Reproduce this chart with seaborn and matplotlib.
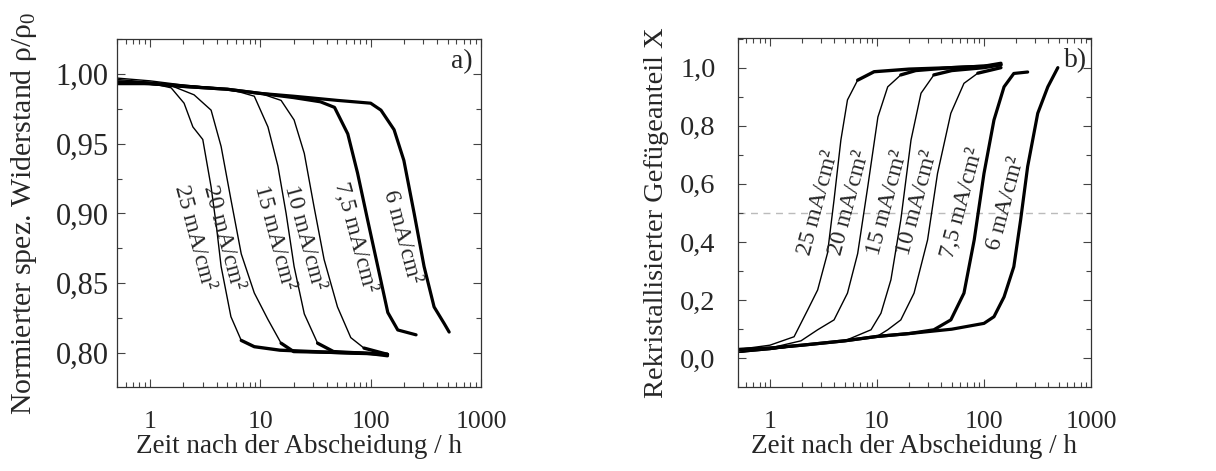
import numpy as np
import pandas as pd
import matplotlib
matplotlib.use("Agg")
import matplotlib.pyplot as plt
import matplotlib.ticker as mticker
import seaborn as sns

# ---------------- data ----------------
labels = ["25 mA/cm²", "20 mA/cm²", "15 mA/cm²", "10 mA/cm²", "7,5 mA/cm²", "6 mA/cm²"]

# panel a: normalized resistivity
ta25 = [0.5, 0.8, 1.2, 1.55, 2.03, 2.44, 3.0, 3.57, 4.0, 4.4, 5.4, 6.7, 8.8, 15, 30, 60, 100, 142]
ra25 = [0.994, 0.993, 0.992, 0.990, 0.979, 0.962, 0.953, 0.919, 0.890, 0.862, 0.826, 0.809, 0.8045, 0.802, 0.801, 0.800, 0.7995, 0.798]
ta20 = [0.5, 1, 1.5, 2.5, 3.57, 4.4, 5.4, 6.7, 8.8, 11.7, 15.4, 20, 40, 80, 142]
ra20 = [0.996, 0.994, 0.992, 0.985, 0.974, 0.948, 0.910, 0.871, 0.843, 0.824, 0.807, 0.801, 0.8005, 0.800, 0.799]
ta15 = [0.5, 1, 2, 4, 6.5, 8.8, 11.7, 14.4, 17.1, 20.2, 25, 33, 46, 80, 142]
ra15 = [0.997, 0.995, 0.992, 0.990, 0.987, 0.984, 0.962, 0.934, 0.900, 0.862, 0.828, 0.807, 0.801, 0.800, 0.799]
ta10 = [0.5, 1, 2, 5, 10, 15.4, 20.2, 25, 30.6, 37.8, 50, 66, 87, 142]
ra10 = [0.995, 0.994, 0.992, 0.989, 0.986, 0.981, 0.967, 0.943, 0.905, 0.867, 0.833, 0.811, 0.8035, 0.799]
ta75 = [0.5, 1, 2, 5, 10, 20, 35, 47, 62, 76, 94, 116, 143, 176, 258]
ra75 = [0.993, 0.993, 0.991, 0.989, 0.986, 0.983, 0.980, 0.976, 0.957, 0.929, 0.895, 0.862, 0.829, 0.8165, 0.813]
ta6 = [0.5, 1, 2, 5, 10, 20, 50, 100, 124, 163, 200, 248, 305, 376, 465, 515]
ra6 = [0.994, 0.993, 0.991, 0.989, 0.986, 0.984, 0.981, 0.979, 0.974, 0.960, 0.938, 0.900, 0.862, 0.833, 0.821, 0.815]

# panel b: recrystallized fraction
tb25 = [0.5, 1, 1.68, 2.25, 2.79, 3.45, 3.97, 4.6, 5.3, 6.6, 9.4, 20, 50, 100, 144]
xb25 = [0.03, 0.045, 0.074, 0.166, 0.235, 0.362, 0.545, 0.751, 0.889, 0.957, 0.986, 0.995, 1.0, 1.005, 1.015]
tb20 = [0.5, 1, 1.95, 2.79, 3.97, 5.3, 6.6, 8.2, 10.2, 12.6, 16.7, 23, 50, 100, 144]
xb20 = [0.02, 0.035, 0.06, 0.098, 0.132, 0.224, 0.36, 0.59, 0.83, 0.934, 0.975, 0.99, 1.0, 1.005, 1.01]
tb15 = [0.5, 1, 2, 5, 8.8, 10.9, 13.5, 16.7, 20.8, 25.8, 34, 50, 100, 144]
xb15 = [0.02, 0.03, 0.045, 0.06, 0.098, 0.155, 0.27, 0.476, 0.751, 0.912, 0.975, 0.99, 1.0, 1.01]
tb10 = [0.5, 1, 2, 5, 10, 12.6, 16.7, 22.2, 29.7, 36.8, 49, 65, 87.6, 144]
xb10 = [0.02, 0.03, 0.045, 0.06, 0.075, 0.098, 0.132, 0.224, 0.407, 0.636, 0.843, 0.946, 0.981, 1.0]
tb75 = [0.5, 1, 2, 5, 10, 20, 34, 49, 65, 81, 100, 124, 154, 190, 256]
xb75 = [0.03, 0.035, 0.045, 0.06, 0.075, 0.085, 0.098, 0.132, 0.224, 0.407, 0.636, 0.82, 0.934, 0.98, 0.985]
tb6 = [0.5, 1, 2, 5, 10, 20, 50, 100, 124, 154, 190, 220, 256, 318, 395, 490]
xb6 = [0.03, 0.035, 0.045, 0.06, 0.075, 0.085, 0.1, 0.12, 0.143, 0.211, 0.315, 0.476, 0.66, 0.843, 0.934, 1.0]

# label levels
lab_ya = 0.883
lab_yb = 0.534

# ---------------- style ----------------
sns.set_style("ticks")
plt.rcParams["font.family"] = ["Liberation Serif", "DejaVu Serif"]
plt.rcParams["mathtext.fontset"] = "custom"
plt.rcParams["mathtext.rm"] = "Liberation Serif"
plt.rcParams["mathtext.it"] = "Liberation Serif:italic"

fig = plt.figure(figsize=(12.16, 4.71), dpi=100)
axa = fig.add_axes([0.0962, 0.1783, 0.2993, 0.7389])
axb = fig.add_axes([0.6067, 0.1783, 0.2905, 0.7410])

curves_a = [(ta25, ra25), (ta20, ra20), (ta15, ra15), (ta10, ra10), (ta75, ra75), (ta6, ra6)]
curves_b = [(tb25, xb25), (tb20, xb20), (tb15, xb15), (tb10, xb10), (tb75, xb75), (tb6, xb6)]
thick = [False, False, False, False, True, True]

axb.axhline(0.5, color="#bbbbbb", lw=1.0, ls=(0, (5, 4)), zorder=0)

for (t, r), th in zip(curves_a, thick):
    t = np.asarray(t); r = np.asarray(r)
    sns.lineplot(x=t, y=r, ax=axa, color="black", lw=2.3 if th else 1.0, sort=False)
    if not th:
        m = r <= 0.8095  # noisy, overlapping plateau drawn heavier
        sns.lineplot(x=t[m], y=r[m], ax=axa, color="black", lw=2.4, sort=False)
for (t, x), th in zip(curves_b, thick):
    t = np.asarray(t); x = np.asarray(x)
    sns.lineplot(x=t, y=x, ax=axb, color="black", lw=2.3 if th else 1.0, sort=False)
    if not th:
        m = x >= 0.955
        sns.lineplot(x=t[m], y=x[m], ax=axb, color="black", lw=2.4, sort=False)


def t_at(t, v, level, decreasing):
    lt = np.log10(np.asarray(t, float))
    vv = np.asarray(v, float)
    if decreasing:
        return 10 ** np.interp(-level, -vv, lt)
    return 10 ** np.interp(level, vv, lt)


offs_a = [-17, -11, -11, -11, -12, -12]
offs_b = [-11, -11, -11, -11, -12, -12]
for lab, (t, r), o in zip(labels, curves_a, offs_a):
    ax_t = t_at(t, r, lab_ya, True)
    axa.annotate(lab, xy=(ax_t, lab_ya), xytext=(o, 0), textcoords="offset points",
                 rotation=-75, ha="center", va="center", fontsize=17,
                 rotation_mode="anchor")
for lab, (t, x), o in zip(labels, curves_b, offs_b):
    ax_t = t_at(t, x, lab_yb, False)
    axb.annotate(lab, xy=(ax_t, lab_yb), xytext=(o, 0), textcoords="offset points",
                 rotation=75, ha="center", va="center", fontsize=17,
                 rotation_mode="anchor")


def comma2(v, p):
    return f"{v:.2f}".replace(".", ",")


def comma1(v, p):
    return f"{v:.1f}".replace(".", ",")


def plainx(v, p):
    return f"{v:g}"


for ax in (axa, axb):
    ax.set_xscale("log")
    ax.set_xlim(0.5, 1000)
    ax.xaxis.set_major_locator(mticker.FixedLocator([1, 10, 100, 1000]))
    ax.xaxis.set_major_formatter(mticker.FuncFormatter(plainx))
    ax.xaxis.set_minor_locator(mticker.LogLocator(base=10, subs=np.arange(2, 10), numticks=20))
    ax.xaxis.set_minor_formatter(mticker.NullFormatter())
    ax.tick_params(which="both", direction="in", top=True, right=True, color="#444444")
    ax.tick_params(which="major", length=6, width=0.8)
    ax.tick_params(which="minor", length=3.5, width=0.8)
    ax.tick_params(axis="x", labelsize=18.5, pad=17)
    for s in ax.spines.values():
        s.set_color("#333333")
        s.set_linewidth(0.9)
    ax.set_xlabel("Zeit nach der Abscheidung / h", fontsize=19.5, labelpad=1)

axa.set_ylim(0.7756, 1.025)
axa.yaxis.set_major_locator(mticker.FixedLocator([0.80, 0.85, 0.90, 0.95, 1.00]))
axa.yaxis.set_minor_locator(mticker.MultipleLocator(0.025))
axa.yaxis.set_major_formatter(mticker.FuncFormatter(comma2))
axa.tick_params(axis="y", labelsize=22, pad=6)
axa.set_ylabel(r"Normierter spez. Widerstand ρ/ρ$_0$", fontsize=21.5)
axa.yaxis.set_label_coords(-0.215, 0.5)
axa.text(0.978, 0.934, "a)", transform=axa.transAxes, ha="right", va="center", fontsize=20)

axb.set_ylim(-0.099, 1.102)
axb.yaxis.set_major_locator(mticker.FixedLocator([0.0, 0.2, 0.4, 0.6, 0.8, 1.0]))
axb.yaxis.set_minor_locator(mticker.MultipleLocator(0.1))
axb.yaxis.set_major_formatter(mticker.FuncFormatter(comma1))
axb.tick_params(axis="y", labelsize=20.5, pad=16)
axb.set_ylabel("Rekristallisierter Gefügeanteil X", fontsize=20.5)
axb.yaxis.set_label_coords(-0.195, 0.5)
axb.text(0.99, 0.934, "b)", transform=axb.transAxes, ha="right", va="center", fontsize=20)

fig.savefig("out.png", dpi=100)
